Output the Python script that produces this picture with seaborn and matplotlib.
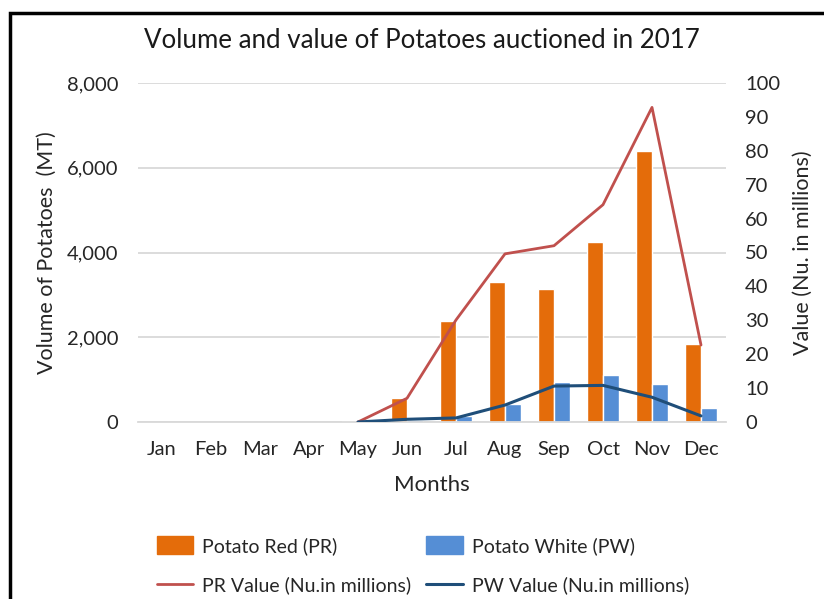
import numpy as np
import pandas as pd
import matplotlib.pyplot as plt
from matplotlib.patches import Rectangle
from matplotlib.ticker import FuncFormatter
import seaborn as sns

# data
months = ['Jan', 'Feb', 'Mar', 'Apr', 'May', 'Jun', 'Jul', 'Aug', 'Sep', 'Oct', 'Nov', 'Dec']
red_volume = [0, 0, 0, 0, 25, 565, 2380, 3310, 3150, 4250, 6390, 1830]
white_volume = [0, 0, 0, 0, 0, 40, 150, 420, 940, 1110, 890, 340]
red_value = [np.nan, np.nan, np.nan, np.nan, 0, 7.0, 30.1, 49.6, 52.0, 64.1, 92.8, 22.7]
white_value = [np.nan, np.nan, np.nan, np.nan, 0, 0.8, 1.2, 5.0, 10.6, 10.8, 7.3, 1.8]

sns.set_style('white')
plt.rcParams['font.family'] = ['Lato', 'DejaVu Sans']
text_col = '#262626'

df_vol = pd.DataFrame({
    'Month': months * 2,
    'Volume': red_volume + white_volume,
    'Type': ['Potato Red (PR)'] * 12 + ['Potato White (PW)'] * 12,
})

fig = plt.figure(figsize=(8.24, 5.99), dpi=100)
ax = fig.add_axes([137.5 / 824, 1 - 422 / 599, 588 / 824, 339 / 599])

sns.barplot(data=df_vol, x='Month', y='Volume', hue='Type', order=months,
            palette=['#E46C0A', '#558ED5'], width=0.66, saturation=1,
            ax=ax, legend=False)
ax.set_ylim(0, 8000)
ax.set_yticks(range(0, 8001, 2000))
ax.yaxis.set_major_formatter(FuncFormatter(lambda v, p: f'{int(v):,}'))
ax.grid(axis='y', color='#D9D9D9', linewidth=1.3)
ax.set_axisbelow(True)
for s in ['top', 'right', 'left']:
    ax.spines[s].set_visible(False)
ax.spines['bottom'].set_color('#D9D9D9')
ax.spines['bottom'].set_linewidth(1.3)
ax.tick_params(axis='both', length=0, labelsize=14.5, labelcolor=text_col)
ax.tick_params(axis='y', pad=14)
ax.tick_params(axis='x', pad=14)
ax.set_xlabel('Months', fontsize=16, color=text_col, labelpad=12)
ax.set_ylabel('Volume of Potatoes  (MT)', fontsize=15.5, color=text_col, labelpad=7)

ax2 = ax.twinx()
x_idx = np.arange(len(months))
sns.lineplot(x=x_idx, y=red_value, color='#C0504D', linewidth=2, ax=ax2)
sns.lineplot(x=x_idx, y=white_value, color='#1F4E79', linewidth=2.2, ax=ax2)
ax2.set_ylim(0, 100)
ax2.set_yticks(range(0, 101, 10))
for s in ax2.spines.values():
    s.set_visible(False)
ax2.tick_params(axis='y', length=0, labelsize=14.5, labelcolor=text_col, pad=14)
ax2.set_ylabel('Value (Nu. in millions)', fontsize=15.5, color=text_col, labelpad=9)
ax.set_xlim(-0.5, len(months) - 0.5)

fig.text(422 / 824, 1 - 40 / 599, 'Volume and value of Potatoes auctioned in 2017',
         ha='center', va='center', fontsize=18.6, color='#1a1a1a')

handles = [
    Rectangle((0, 0), 1, 1, color='#E46C0A'),
    plt.Line2D([], [], color='#C0504D', linewidth=2),
    Rectangle((0, 0), 1, 1, color='#558ED5'),
    plt.Line2D([], [], color='#1F4E79', linewidth=2.2),
]
labels = ['Potato Red (PR)', 'PR Value (Nu.in millions)',
          'Potato White (PW)', 'PW Value (Nu.in millions)']
fig.legend(handles, labels, ncol=2, frameon=False, fontsize=14,
           loc='upper left', bbox_to_anchor=(139 / 824, 1 - 519 / 599),
           handlelength=1.9, handleheight=1.0, handletextpad=0.45,
           columnspacing=0.75, labelspacing=1.1, labelcolor=text_col)

# outer chart frame (cut off on the right and bottom in the reference)
fig.add_artist(Rectangle((10 / 824, -0.1), 1.2, 1.1 - 13 / 599,
                         transform=fig.transFigure, fill=False,
                         edgecolor='black', linewidth=2.5))

fig.savefig('out.png', dpi=100)
